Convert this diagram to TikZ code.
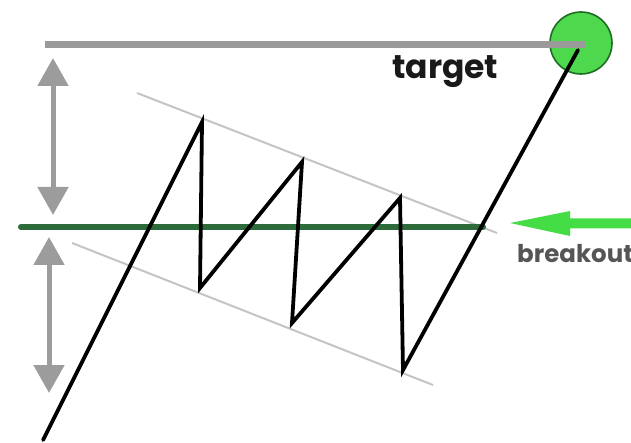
\documentclass[tikz,border=0pt]{standalone}
\usepackage{fontspec}
\newfontfamily\lblfont{Poppins}
\usetikzlibrary{arrows.meta}
\definecolor{topgray}{HTML}{9A9A9A}
\definecolor{arrgray}{HTML}{9C9C9C}
\definecolor{chan}{HTML}{C4C4C4}
\definecolor{darkgreen}{HTML}{2E6B3A}
\definecolor{brightgreen}{HTML}{45DD45}
\definecolor{circgreen}{HTML}{4ED84E}
\definecolor{circedge}{HTML}{1F6E24}
\definecolor{txtgray}{HTML}{555555}
\tikzset{
  price/.style={line width=3.8pt, black, line join=miter, line cap=round},
  chanline/.style={line width=2pt, chan},
  measure/.style={line width=5pt, arrgray, {Triangle[length=28pt,width=30pt]}-{Triangle[length=28pt,width=30pt]}},
  lbl/.style={inner sep=0pt, anchor=base west}
}
\begin{document}
\begin{tikzpicture}[x=1pt,y=-1pt]
\useasboundingbox (0,0) rectangle (631,443);
\clip (0,0) rectangle (631,443);
% coordinates
\coordinate (s) at (43,440);
\coordinate (p1) at (202,122);
\coordinate (t1) at (200,288);
\coordinate (p2) at (302,162);
\coordinate (t2) at (292,323);
\coordinate (p3) at (400,198);
\coordinate (t3) at (403,370);
\coordinate (e) at (578,50);
\coordinate (ua) at (137,93);
\coordinate (ub) at (497,233);
\coordinate (la) at (72,243);
\coordinate (lb) at (433,385);
\coordinate (ga) at (45,45);
\coordinate (gb) at (585,45);
\coordinate (bla) at (21,227);
\coordinate (blb) at (483,227);
\coordinate (m1a) at (53,58);
\coordinate (m1b) at (53,215);
\coordinate (m2a) at (49,237);
\coordinate (m2b) at (49,393);
% target circle
\node[circle, draw=circedge, line width=1.6pt, fill=circgreen, minimum size=62pt, inner sep=0pt] (tc) at (581,43) {};
% channel
\draw[chanline] (ua) -- (ub);
\draw[chanline] (la) -- (lb);
% target line
\draw[line width=7pt, topgray] (ga) -- (gb);
% breakout line
\draw[line width=6pt, darkgreen, line cap=round] (bla) -- (blb);
% price path
\draw[price] (s) -- (p1) -- (t1) -- (p2) -- (t2) -- (p3) -- (t3) -- (e);
% measure arrows
\draw[measure] (m1a) -- (m1b);
\draw[measure] (m2a) -- (m2b);
% breakout arrow
\coordinate (bt) at (510,223);
\fill[brightgreen] (bt) -- (570,211) -- (570,218.5) -- (640,218.5) -- (640,228.5) -- (570,228.5) -- (570,236) -- cycle;
% labels
\node[lbl, font=\lblfont\bfseries\fontsize{33}{33}\selectfont, text=black!90] (target) at (392,79) {target};
\node[lbl, font=\lblfont\bfseries\fontsize{24.5}{24.5}\selectfont, text=txtgray] (brk) at (517,263) {breakout};
\end{tikzpicture}
\end{document}
